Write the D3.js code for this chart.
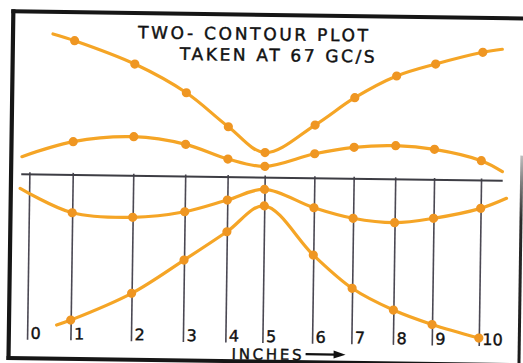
<!DOCTYPE html>
<html>
<head>
<meta charset="utf-8">
<script src="https://cdn.jsdelivr.net/npm/d3@7"></script>
<style>
  html, body { margin: 0; padding: 0; background: #fff; }
  svg { display: block; }
  text { font-family: "DejaVu Sans", sans-serif; fill: #111; }
</style>
</head>
<body>
<svg id="chart" width="523" height="363"></svg>
<script>
// Probe stations along the guide (labels) and their measured positions in inches
const stationLabels = ["0", "1", "2", "3", "4", "5", "6", "7", "8", "9", "10"];
const stationInches = [0, 0.96, 2.30, 3.45, 4.39, 5.21, 6.31, 7.18, 8.10, 8.96, 10.0];

// Contour readings at stations 1..10 (relative level, 0 = guide line)
const outerUpper = [13.42, 11.17, 8.37, 5.03, 2.50, 5.32, 8.11, 10.34, 11.59, 12.83];
const innerUpper = [3.32, 3.90, 3.21, 1.80, 1.12, 2.45, 3.15, 3.37, 3.06, 1.99];
const innerLower = [-3.79, -4.16, -3.53, -2.30, -1.18, -2.95, -3.95, -4.33, -3.84, -2.78];
const outerLower = [-14.52, -11.76, -8.36, -5.47, -2.83, -7.68, -10.95, -13.07, -14.46, -15.75];

// Faired lead-in / lead-out of each contour beyond the measured stations [inch, level]
const outerUpperTails = [[0.48, 14.06], [10.43, 13.16]];
const innerUpperTails = [[-0.17, 1.75], [10.47, 0.92]];
const innerLowerTails = [[-0.20, -1.42], [10.57, -1.74]];
const outerLowerTails = [[0.65, -15.04], null];

const titleLines = ["TWO- CONTOUR PLOT", "TAKEN AT 67 GC/S"];
const axisTitle = "INCHES";

const svg = d3.select("#chart");

const x = d3.scaleLinear().domain([0, 10]).range([29.3, 481]);
const y = d3.scaleLinear().domain([-17, 17]).range([347.5, 7.5]);

// The sheet sits slightly askew
const sheet = svg.append("g").attr("transform", "rotate(0.8, 261, 181)");

// Border of the sheet
const frame = sheet.append("g").attr("fill", "none").attr("stroke", "#161616").attr("stroke-linecap", "square");
frame.append("line").attr("x1", 11).attr("y1", 14.8).attr("x2", 540).attr("y2", 14.8).attr("stroke-width", 4);
frame.append("line").attr("x1", 11).attr("y1", 14.8).attr("x2", 11).attr("y2", 361.5).attr("stroke-width", 4.2);
frame.append("line").attr("x1", 11).attr("y1", 361.5).attr("x2", 540).attr("y2", 361.5).attr("stroke-width", 4);

const grad = svg.append("defs").append("linearGradient")
  .attr("id", "edgeFade").attr("x1", 0).attr("y1", 0).attr("x2", 0).attr("y2", 1);
grad.append("stop").attr("offset", "0%").attr("stop-color", "#bdbdbd");
grad.append("stop").attr("offset", "30%").attr("stop-color", "#2a2a2a");
grad.append("stop").attr("offset", "100%").attr("stop-color", "#1a1a1a");
sheet.append("rect").attr("x", 520).attr("y", 152).attr("width", 3).attr("height", 215)
  .attr("fill", "url(#edgeFade)");

// Station axis: ticks drawn up to the guide line
const guideY = y(0);
const axisY = 343;
const axis = d3.axisBottom(x)
  .tickValues(stationInches)
  .tickFormat((d, i) => stationLabels[i])
  .tickSizeInner(-(axisY - guideY + 2))
  .tickSizeOuter(0);

const gAxis = sheet.append("g").attr("transform", `translate(0,${axisY})`).call(axis);
gAxis.select(".domain").remove();
gAxis.selectAll(".tick line").attr("stroke", "#4b4853").attr("stroke-width", 1.6);
gAxis.selectAll(".tick text")
  .attr("x", 3).attr("y", -1).attr("dy", 0)
  .attr("text-anchor", "start")
  .style("font-family", "'DejaVu Sans', sans-serif")
  .style("font-size", "16px")
  .attr("fill", "#111")
  .attr("stroke", "#111").attr("stroke-width", 0.4);

// Guide line
sheet.append("line")
  .attr("x1", x(-0.18)).attr("x2", x(10.48))
  .attr("y1", guideY).attr("y2", guideY)
  .attr("stroke", "#3d3d44").attr("stroke-width", 2);

// Contours
const probes = stationInches.slice(1);
const series = [
  { vals: outerUpper, tails: outerUpperTails },
  { vals: innerUpper, tails: innerUpperTails },
  { vals: innerLower, tails: innerLowerTails },
  { vals: outerLower, tails: outerLowerTails }
];

const line = d3.line().x(d => x(d[0])).y(d => y(d[1])).curve(d3.curveCatmullRom.alpha(0.5));
const curves = sheet.append("g");

series.forEach(s => {
  const pts = probes.map((p, i) => [p, s.vals[i]]);
  const path = [];
  if (s.tails[0]) path.push(s.tails[0]);
  path.push(...pts);
  if (s.tails[1]) path.push(s.tails[1]);
  curves.append("path")
    .attr("d", line(path))
    .attr("fill", "none")
    .attr("stroke", "#f5a526")
    .attr("stroke-width", 3.2)
    .attr("stroke-linecap", "round");
  curves.selectAll(null).data(pts).enter().append("circle")
    .attr("cx", d => x(d[0]))
    .attr("cy", d => y(d[1]))
    .attr("r", 4.6)
    .attr("fill", "#ef9622");
});

// Title
const title = sheet.append("g").style("font-size", "17px")
  .attr("stroke", "#111").attr("stroke-width", 0.45);
title.append("text").attr("x", 136).attr("y", 40)
  .attr("textLength", 230).attr("lengthAdjust", "spacing").text(titleLines[0]);
title.append("text").attr("x", 178).attr("y", 61)
  .attr("textLength", 195).attr("lengthAdjust", "spacing").text(titleLines[1]);

// Axis caption with arrow
sheet.append("text").attr("x", 234).attr("y", 359.5)
  .style("font-size", "15px")
  .attr("stroke", "#111").attr("stroke-width", 0.4)
  .attr("textLength", 70).attr("lengthAdjust", "spacing")
  .text(axisTitle);
sheet.append("line").attr("x1", 308).attr("x2", 338).attr("y1", 353.5).attr("y2", 353.5)
  .attr("stroke", "#111").attr("stroke-width", 2.2);
sheet.append("path").attr("d", "M336,349.5 L348,353.5 L336,357.5 Z").attr("fill", "#111");
</script>
</body>
</html>
